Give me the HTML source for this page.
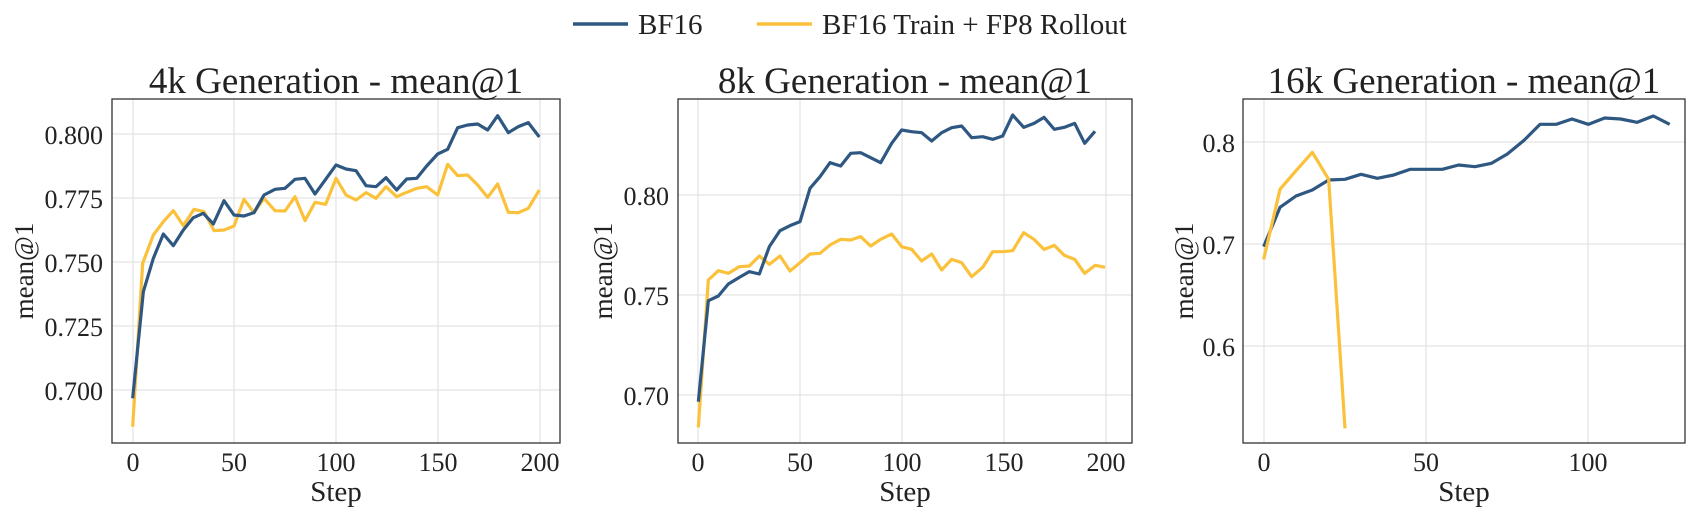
<!DOCTYPE html>
<html><head><meta charset="utf-8"><style>
html,body{margin:0;padding:0;background:#fff;}
svg{display:block;font-family:"Liberation Serif",serif;}
</style></head><body>
<svg width="1693" height="512" viewBox="0 0 1693 512" xmlns="http://www.w3.org/2000/svg">
<!-- legend -->
<line x1="573" y1="24" x2="628" y2="24" stroke="#2e5781" stroke-width="3.5"/>
<text x="638" y="34" font-size="29" fill="#222">BF16</text>
<line x1="757" y1="24" x2="812" y2="24" stroke="#fbc13b" stroke-width="3.5"/>
<text x="822" y="34" font-size="29" fill="#222">BF16 Train + FP8 Rollout</text>

<!-- Panel 1 -->
<g>
<g stroke="#e3e3e3" stroke-width="1.2">
<line x1="133" y1="99" x2="133" y2="443"/><line x1="234" y1="99" x2="234" y2="443"/><line x1="336" y1="99" x2="336" y2="443"/><line x1="438" y1="99" x2="438" y2="443"/><line x1="540" y1="99" x2="540" y2="443"/>
<line x1="112" y1="134" x2="560" y2="134"/><line x1="112" y1="198" x2="560" y2="198"/><line x1="112" y1="262" x2="560" y2="262"/><line x1="112" y1="326" x2="560" y2="326"/><line x1="112" y1="390" x2="560" y2="390"/>
</g>
<g transform="translate(100,80) scale(0.3333333)" fill="none" stroke-width="3.2" stroke-linejoin="round">
<polyline vector-effect="non-scaling-stroke" stroke="#fbc13b" points="98,1040 128,550 160,465 190,425 220,392 250,437 282,388 312,395 342,452 372,450 402,438 432,358 462,398 492,355 525,392 555,393 585,350 615,422 645,367 677,373 708,295 738,345 768,360 798,338 828,355 858,320 890,350 920,337 950,325 980,320 1013,345 1043,253 1073,287 1103,285 1133,315 1163,352 1193,312 1225,397 1255,398 1285,385 1318,330"/>
<polyline vector-effect="non-scaling-stroke" stroke="#2e5781" points="98,955 130,635 160,535 190,462 220,497 250,450 280,413 310,400 340,432 372,362 402,405 432,408 462,398 492,345 525,328 555,325 585,298 615,295 645,342 677,298 708,255 738,267 768,272 798,317 828,320 858,293 890,330 920,297 950,295 980,258 1013,222 1043,208 1073,143 1103,135 1133,132 1163,150 1193,107 1225,158 1255,140 1285,128 1318,171"/>
</g>
<rect x="112" y="99" width="448" height="344" fill="none" stroke="#333" stroke-width="1.3"/>
<g font-size="26" fill="#222" text-anchor="end">
<text x="103" y="144">0.800</text><text x="103" y="208">0.775</text><text x="103" y="272">0.750</text><text x="103" y="336">0.725</text><text x="103" y="400">0.700</text>
</g>
<g font-size="26" fill="#222" text-anchor="middle">
<text x="133" y="471">0</text><text x="234" y="471">50</text><text x="336" y="471">100</text><text x="438" y="471">150</text><text x="540" y="471">200</text>
<text x="336" y="501" font-size="29">Step</text>
<text x="336" y="93" font-size="37">4k Generation - mean@1</text>
</g>
<text transform="translate(33,271) rotate(-90)" font-size="27" fill="#222" text-anchor="middle">mean@1</text>
</g>

<!-- Panel 2 -->
<g>
<g stroke="#e3e3e3" stroke-width="1.2">
<line x1="698" y1="99" x2="698" y2="443"/><line x1="800" y1="99" x2="800" y2="443"/><line x1="902" y1="99" x2="902" y2="443"/><line x1="1004" y1="99" x2="1004" y2="443"/><line x1="1106" y1="99" x2="1106" y2="443"/>
<line x1="678" y1="195" x2="1132" y2="195"/><line x1="678" y1="295" x2="1132" y2="295"/><line x1="678" y1="395" x2="1132" y2="395"/>
</g>
<g transform="translate(630,80) scale(0.3333333)" fill="none" stroke-width="3.2" stroke-linejoin="round">
<polyline vector-effect="non-scaling-stroke" stroke="#fbc13b" points="205,1042 235,600 265,572 295,580 328,560 358,558 388,528 418,553 450,528 480,573 510,548 540,522 570,520 600,495 632,478 662,480 692,470 722,498 752,478 785,462 815,500 845,508 875,543 905,522 935,570 965,538 995,548 1025,590 1058,562 1088,515 1118,515 1148,512 1181,458 1212,478 1242,508 1273,496 1303,526 1334,538 1364,580 1395,556 1425,562"/>
<polyline vector-effect="non-scaling-stroke" stroke="#2e5781" points="205,965 235,662 265,648 295,612 328,592 358,575 388,582 418,500 450,452 480,437 510,425 540,325 570,290 600,248 632,258 662,220 692,218 722,233 752,248 785,190 815,150 845,155 875,158 905,183 935,158 965,143 995,138 1025,173 1058,170 1088,178 1118,168 1148,105 1181,142 1212,130 1242,112 1273,148 1303,142 1334,130 1364,190 1395,154"/>
</g>
<rect x="678" y="99" width="454" height="344" fill="none" stroke="#333" stroke-width="1.3"/>
<g font-size="26" fill="#222" text-anchor="end">
<text x="669" y="205">0.80</text><text x="669" y="305">0.75</text><text x="669" y="405">0.70</text>
</g>
<g font-size="26" fill="#222" text-anchor="middle">
<text x="698" y="471">0</text><text x="800" y="471">50</text><text x="902" y="471">100</text><text x="1004" y="471">150</text><text x="1106" y="471">200</text>
<text x="905" y="501" font-size="29">Step</text>
<text x="905" y="93" font-size="37">8k Generation - mean@1</text>
</g>
<text transform="translate(612,271) rotate(-90)" font-size="27" fill="#222" text-anchor="middle">mean@1</text>
</g>

<!-- Panel 3 -->
<g>
<g stroke="#e3e3e3" stroke-width="1.2">
<line x1="1264" y1="99" x2="1264" y2="443"/><line x1="1426" y1="99" x2="1426" y2="443"/><line x1="1588" y1="99" x2="1588" y2="443"/>
<line x1="1243" y1="142" x2="1685" y2="142"/><line x1="1243" y1="244" x2="1685" y2="244"/><line x1="1243" y1="346" x2="1685" y2="346"/>
</g>
<g transform="translate(1130,80) scale(0.3333333)" fill="none" stroke-width="3.2" stroke-linejoin="round">
<polyline vector-effect="non-scaling-stroke" stroke="#2e5781" points="401,500 450,382 498,348 547,330 596,300 645,298 693,283 742,295 791,285 840,268 888,268 937,268 986,255 1035,260 1084,250 1132,222 1181,182 1230,133 1278,133 1326,117 1375,133 1424,114 1472,117 1521,127 1570,108 1619,133"/>
<polyline vector-effect="non-scaling-stroke" stroke="#fbc13b" points="401,538 450,328 498,272 547,217 596,298 645,1045"/>
</g>
<rect x="1243" y="99" width="442" height="344" fill="none" stroke="#333" stroke-width="1.3"/>
<g font-size="26" fill="#222" text-anchor="end">
<text x="1235" y="152">0.8</text><text x="1235" y="254">0.7</text><text x="1235" y="356">0.6</text>
</g>
<g font-size="26" fill="#222" text-anchor="middle">
<text x="1264" y="471">0</text><text x="1426" y="471">50</text><text x="1588" y="471">100</text>
<text x="1464" y="501" font-size="29">Step</text>
<text x="1464" y="93" font-size="37">16k Generation - mean@1</text>
</g>
<text transform="translate(1193,271) rotate(-90)" font-size="27" fill="#222" text-anchor="middle">mean@1</text>
</g>
</svg>
</body></html>
